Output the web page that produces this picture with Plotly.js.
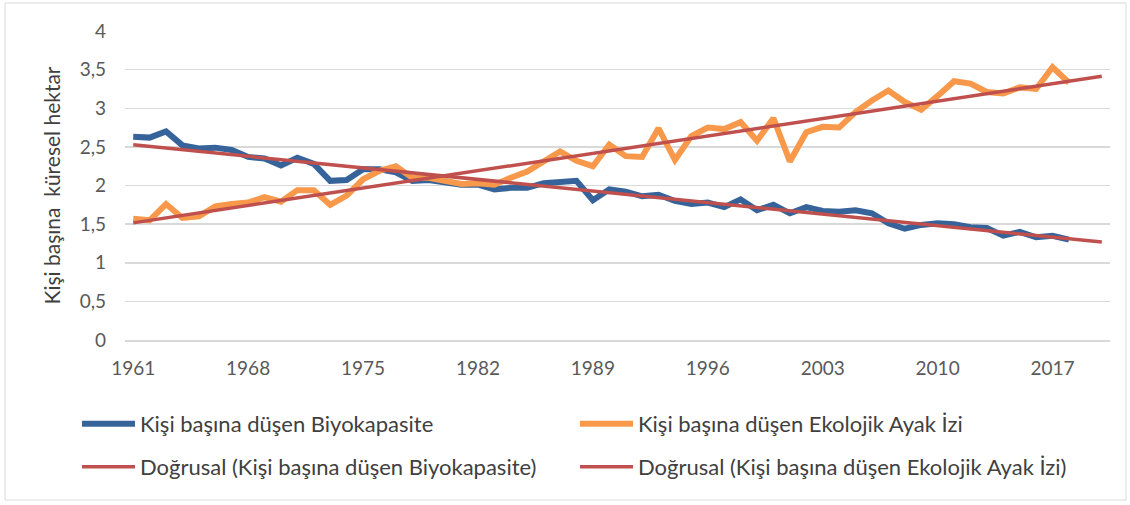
<!DOCTYPE html>
<html>
<head>
<meta charset="utf-8">
<script src="https://cdn.plot.ly/plotly-3.0.1.min.js"></script>
<style>
html,body{margin:0;padding:0;background:#fff;}
#chart{width:1130px;height:505px;}
</style>
</head>
<body>
<div id="chart"></div>
<script>
// Years 1961-2018
var years = [];
for (var yy = 1961; yy <= 2018; yy++) years.push(yy);

var biocapacity = [
  2.63, 2.62, 2.70, 2.52, 2.48, 2.49, 2.46, 2.37, 2.35, 2.26,
  2.36, 2.28, 2.06, 2.07, 2.21, 2.21, 2.17, 2.06, 2.07, 2.04,
  2.01, 2.01, 1.95, 1.97, 1.97, 2.03, 2.04, 2.06, 1.81, 1.95,
  1.92, 1.86, 1.88, 1.80, 1.76, 1.78, 1.72, 1.82, 1.68, 1.75,
  1.64, 1.72, 1.67, 1.66, 1.68, 1.64, 1.51, 1.44, 1.49, 1.51,
  1.50, 1.46, 1.45, 1.35, 1.40, 1.33, 1.35, 1.30
];

var footprint = [
  1.57, 1.55, 1.76, 1.58, 1.60, 1.73, 1.76, 1.78, 1.85, 1.79,
  1.94, 1.94, 1.75, 1.87, 2.08, 2.19, 2.25, 2.10, 2.10, 2.06,
  2.02, 2.03, 2.01, 2.10, 2.18, 2.31, 2.44, 2.32, 2.25, 2.53,
  2.38, 2.37, 2.74, 2.33, 2.64, 2.75, 2.73, 2.82, 2.58, 2.87,
  2.31, 2.69, 2.76, 2.75, 2.95, 3.10, 3.23, 3.08, 2.98, 3.16,
  3.35, 3.32, 3.21, 3.19, 3.27, 3.25, 3.53, 3.33
];

var tickYears = [1961, 1968, 1975, 1982, 1989, 1996, 2003, 2010, 2017];
var forecastPeriods = 2;

var names = [
  "Kişi başına düşen Biyokapasite",
  "Kişi başına düşen Ekolojik Ayak İzi",
  "Doğrusal (Kişi başına düşen Biyokapasite)",
  "Doğrusal (Kişi başına düşen Ekolojik Ayak İzi)"
];

function linTrend(xs, ys, extra) {
  var n = xs.length, sx = 0, sy = 0, sxx = 0, sxy = 0;
  for (var i = 0; i < n; i++) { sx += xs[i]; sy += ys[i]; sxx += xs[i]*xs[i]; sxy += xs[i]*ys[i]; }
  var b = (n*sxy - sx*sy) / (n*sxx - sx*sx);
  var a = (sy - b*sx) / n;
  var x0 = xs[0], x1 = xs[n-1] + extra;
  return {x: [x0, x1], y: [a + b*x0, a + b*x1]};
}

var tB = linTrend(years, biocapacity, forecastPeriods);
var tF = linTrend(years, footprint, forecastPeriods);

var blue = "#36639a", orange = "#f7984a", red = "#c0504d";

var traces = [
  {x: years, y: biocapacity, name: names[0], type: "scatter", mode: "lines",
   line: {color: blue, width: 6}, legend: "legend"},
  {x: years, y: footprint, name: names[1], type: "scatter", mode: "lines",
   line: {color: orange, width: 6}, legend: "legend2"},
  {x: tB.x, y: tB.y, name: names[2], type: "scatter", mode: "lines",
   line: {color: red, width: 3.5}, legend: "legend3"},
  {x: tF.x, y: tF.y, name: names[3], type: "scatter", mode: "lines",
   line: {color: red, width: 3.5}, legend: "legend4"}
];

var L = 125, R = 1110, T = 31, B = 340, W = 1130, H = 505;
var pw = R - L, ph = B - T;
function px(x) { return (x - L) / pw; }
function py(y) { return (B - y) / ph; }

function leg(x, y) {
  return {
    x: px(x), y: py(y), xanchor: "left", yanchor: "middle",
    orientation: "v", itemwidth: 53,
    font: {family: "Lato, 'Open Sans', sans-serif", size: 22, color: "#404040"},
    bgcolor: "rgba(0,0,0,0)", borderwidth: 0
  };
}

var layout = {
  width: W, height: H,
  margin: {l: L, r: W - R, t: T, b: H - B, pad: 0, autoexpand: false},
  paper_bgcolor: "#ffffff",
  plot_bgcolor: "#ffffff",
  separators: ",.",
  font: {family: "Lato, 'Open Sans', sans-serif", size: 19, color: "#595959"},
  showlegend: true,
  legend: leg(77, 424),
  legend2: leg(575, 424),
  legend3: leg(77, 467),
  legend4: leg(575, 467),
  xaxis: {
    range: [1960.5, 2020.5],
    tickvals: tickYears,
    ticktext: tickYears.map(String),
    showgrid: false,
    zeroline: false,
    showline: true,
    linecolor: "#d9d9d9",
    linewidth: 1.5,
    ticks: "",
    ticklabelstandoff: 11,
    tickfont: {size: 19, color: "#595959"},
    fixedrange: true
  },
  yaxis: {
    range: [0, 4],
    dtick: 0.5,
    tick0: 0,
    showgrid: true,
    gridcolor: "#d9d9d9",
    gridwidth: 1.5,
    zeroline: false,
    showline: false,
    ticks: "",
    ticklabelstandoff: 18,
    tickfont: {size: 19, color: "#595959"},
    title: {text: "Kişi başına  küresel hektar", font: {size: 21, color: "#404040"}, standoff: 13},
    fixedrange: true
  },
  shapes: [{
    type: "rect", xref: "paper", yref: "paper",
    x0: px(5), x1: px(1126), y0: py(3), y1: py(500),
    line: {color: "#d9d9d9", width: 1}, fillcolor: "rgba(0,0,0,0)", layer: "below"
  }]
};

Plotly.newPlot("chart", traces, layout, {displayModeBar: false, staticPlot: true});
</script>
</body>
</html>
